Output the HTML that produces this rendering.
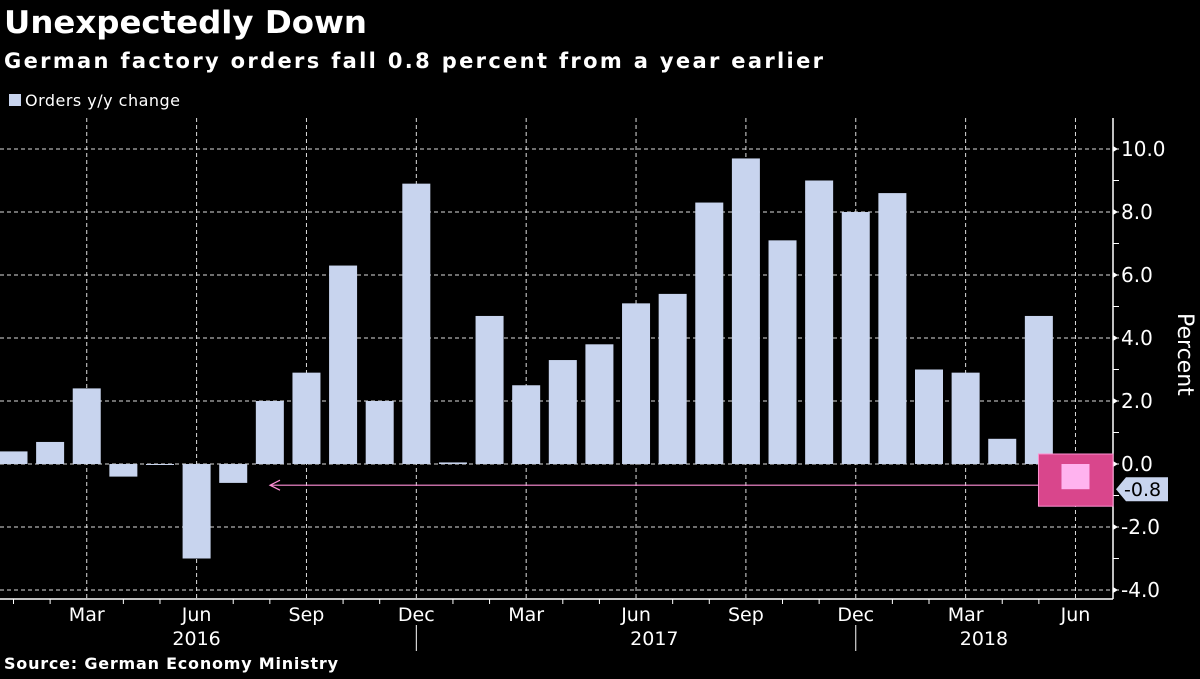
<!DOCTYPE html>
<html><head><meta charset="utf-8"><style>
body{margin:0;background:#000;width:1200px;height:675px;overflow:hidden;font-family:"DejaVu Sans","Liberation Sans",sans-serif;color:#fff}
</style></head><body>
<svg width="1200" height="675" xmlns="http://www.w3.org/2000/svg">
<text x="4" y="33" font-size="31" font-weight="bold" fill="#fff" textLength="363" lengthAdjust="spacingAndGlyphs">Unexpectedly Down</text>
<text x="4" y="68" font-size="21" font-weight="bold" fill="#fff" textLength="819" lengthAdjust="spacing">German factory orders fall 0.8 percent from a year earlier</text>
<rect x="9" y="94" width="12" height="12" fill="#c8d4ee"/>
<text x="25" y="106" font-size="16" fill="#fff" textLength="155" lengthAdjust="spacing">Orders y/y change</text>
<g id="grid"></g><g id="bars"></g><g id="axes"></g><g id="annot"></g>
<text x="4" y="669" font-size="16" font-weight="bold" fill="#fff" textLength="334" lengthAdjust="spacing">Source: German Economy Ministry</text>
</svg>
<script>
const months=["Jan","Feb","Mar","Apr","May","Jun","Jul","Aug","Sep","Oct","Nov","Dec","Jan","Feb","Mar","Apr","May","Jun","Jul","Aug","Sep","Oct","Nov","Dec","Jan","Feb","Mar","Apr","May","Jun"];
const values=[0.4,0.7,2.4,-0.4,0.0,-3.0,-0.6,2.0,2.9,6.3,2.0,8.9,0.05,4.7,2.5,3.3,3.8,5.1,5.4,8.3,9.7,7.1,9.0,8.0,8.6,3.0,2.9,0.8,4.7,-0.8];
const yTicks=[10,8,6,4,2,0,-2,-4];
const yTickLabels=["10.0","8.0","6.0","4.0","2.0","0.0","-2.0","-4.0"];
const years=["2016","2017","2018"];
const latest=values[values.length-1];
const NS="http://www.w3.org/2000/svg";
const x=i=>13.5+i*36.62;
const y=v=>464-v*31.5;
const R=1113,T=118,B=599;
function mk(t,a,p){const e=document.createElementNS(NS,t);for(const k in a)e.setAttribute(k,a[k]);(p||document.querySelector('svg')).appendChild(e);return e;}
const grid=document.getElementById('grid'),bars=document.getElementById('bars'),axes=document.getElementById('axes'),an=document.getElementById('annot');
yTicks.forEach((v,i)=>{
 const l=mk('line',{x1:0,x2:R,y1:y(v),y2:y(v),stroke:'#ddd','stroke-width':1,'stroke-dasharray':'4,3'},grid);
 
 
 const t=mk('text',{x:R+8,y:y(v)+7,'font-size':20,fill:'#fff'},axes);t.textContent=yTickLabels[i];
 
 
 mk('path',{d:`M${R} ${y(v)-3}L${R+5} ${y(v)}L${R} ${y(v)+3}Z`,fill:'#fff'},axes);
});
for(let v=-4;v<=10;v++){mk('line',{x1:R,x2:R+6,y1:y(v),y2:y(v),stroke:'#fff'},axes);}
months.forEach((m,i)=>{
 if(i%3==2){
  const g=mk('line',{x1:x(i),x2:x(i),y1:T,y2:B,stroke:'#ddd','stroke-dasharray':'4,3'},grid);
  
  
  const t=mk('text',{x:x(i),y:621,'font-size':19,fill:'#fff','text-anchor':'middle'},axes);t.textContent=m;
  
  
 } else mk('line',{x1:x(i),x2:x(i),y1:B,y2:B+5,stroke:'#fff'},axes);
 const v=values[i];
 if(i<values.length-1){
  const b=mk('rect',{x:x(i)-14,width:28,y:Math.min(y(v),y(0)),height:Math.max(1,Math.abs(y(v)-y(0))),fill:'#c8d4ee'},bars);
  
  
 }
});
mk('line',{x1:0,x2:R,y1:B,y2:B,stroke:'#fff','stroke-width':1.5},axes);
mk('line',{x1:R,x2:R,y1:T,y2:B,stroke:'#fff','stroke-width':1.5},axes);
[11,23].forEach(i=>mk('line',{x1:x(i),x2:x(i),y1:625,y2:651,stroke:'#fff'},axes));
[[5,0],[17.5,1],[26.5,2]].forEach(([p,k])=>{const t=mk('text',{x:x(p),y:645,'font-size':19,fill:'#fff','text-anchor':'middle'},axes);t.textContent=years[k];
 
 });
const li=values.length-1;
const hb=mk('rect',{x:x(li)-37,y:y(0)-10,width:R-(x(li)-37),height:Math.abs(y(latest)-y(0))+27,fill:'#d9468c',stroke:'#ff8fd0'},an);


const lb=mk('rect',{x:x(li)-14,y:Math.min(y(0),y(latest)),width:28,height:Math.abs(y(latest)-y(0)),fill:'#ffb3ef'},an);


const ay=y(latest)-4;
mk('line',{x1:270,x2:x(li)-37,y1:ay,y2:ay,stroke:'#ff8fd8','stroke-width':1.2},an);
mk('path',{d:`M280 ${ay-5}L270 ${ay}L280 ${ay+5}`,fill:'none',stroke:'#ff8fd8','stroke-width':1.2},an);
const tag=mk('path',{d:`M${R+3} ${y(latest)}L${R+13} ${y(latest)-12}H1168V${y(latest)+12}H${R+13}Z`,fill:'#c8d4ee'},an);


const tt=mk('text',{x:1124,y:y(latest)+7,'font-size':19,fill:'#000'},an);tt.textContent=latest.toFixed(1);


const pt=mk('text',{x:0,y:0,'font-size':22,fill:'#fff',transform:`translate(1178,313) rotate(90)`},axes);pt.textContent='Percent';


</script>
</body></html>
